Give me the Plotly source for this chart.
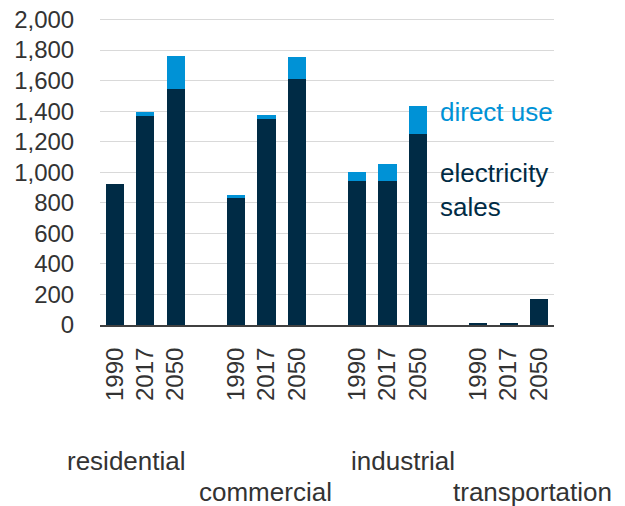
import plotly.graph_objects as go

sectors = ["residential", "commercial", "industrial", "transportation"]
years = ["1990", "2017", "2050"]
electricity_sales = [
    [925, 1370, 1546],
    [836, 1350, 1611],
    [944, 944, 1248],
    [7, 7, 170],
]
direct_use = [
    [0, 26, 216],
    [13, 22, 142],
    [59, 107, 185],
    [0, 0, 0],
]
y_ticks = [0, 200, 400, 600, 800, 1000, 1200, 1400, 1600, 1800, 2000]

DARK = "#002b45"
LIGHT = "#0092d6"
TXT = "#333333"
FONT = "Liberation Sans, Arial, sans-serif"

PL, PT, PW, PH = 100, 18, 454, 307  # plot area in page pixels

xs, es, ds, tt = [], [], [], []
for g, s in enumerate(sectors):
    for i, yr in enumerate(years):
        xs.append(g * 4 + i)
        es.append(electricity_sales[g][i])
        ds.append(direct_use[g][i])
        tt.append(yr)

fig = go.Figure()
fig.add_trace(go.Bar(x=xs, y=es, name="electricity sales", marker_color=DARK,
                     marker_line_width=0))
fig.add_trace(go.Bar(x=xs, y=ds, name="direct use", marker_color=LIGHT,
                     marker_line_width=0))

W, H = 625, 506
fig.update_layout(
    width=W, height=H,
    margin=dict(l=PL, r=W - PL - PW, t=PT, b=H - PT - PH),
    barmode="stack", bargap=0.4,
    plot_bgcolor="white", paper_bgcolor="white",
    showlegend=False,
    font=dict(family=FONT, size=24, color=TXT),
)
fig.update_xaxes(
    range=[-0.5, 14.5], tickmode="array", tickvals=xs, ticktext=tt,
    tickangle=-90, showgrid=False, zeroline=False, automargin=False,
    showline=True, linecolor="#404040", linewidth=2,
    ticks="outside", ticklen=11, tickcolor="rgba(0,0,0,0)",
    tickfont=dict(size=24, color=TXT),
)
fig.update_yaxes(
    range=[0, 2010], tickmode="array", tickvals=y_ticks, tickformat=",",
    showgrid=True, gridcolor="#d9d9d9", gridwidth=1, zeroline=False, automargin=False,
    ticks="outside", ticklen=20, tickcolor="rgba(0,0,0,0)",
    ticklabeloverflow="allow",
    tickfont=dict(size=24, color=TXT),
)

def px2paper(px, py):
    return (px - PL) / PW, (PT + PH - py) / PH

cat_pos = [(126, 461), (265, 492), (403, 461), (532, 492)]
for s, (px, py) in zip(sectors, cat_pos):
    x, y = px2paper(px, py)
    fig.add_annotation(text=s, xref="paper", yref="paper", x=x, y=y,
                       showarrow=False, xanchor="center", yanchor="middle",
                       borderpad=0, font=dict(size=26, color=TXT))

x, y = px2paper(439, 112)
fig.add_annotation(text="direct use", xref="paper", yref="paper", x=x, y=y,
                   showarrow=False, xanchor="left", yanchor="middle", borderpad=0,
                   font=dict(size=26, color=LIGHT))
x, y = px2paper(439, 190)
fig.add_annotation(text="electricity<br>sales", xref="paper", yref="paper", x=x, y=y,
                   showarrow=False, xanchor="left", yanchor="middle", align="left",
                   borderpad=0, font=dict(size=26, color=DARK))

fig.write_html("out.html", config={"displayModeBar": False},
               post_script="document.body.style.margin='0';")
